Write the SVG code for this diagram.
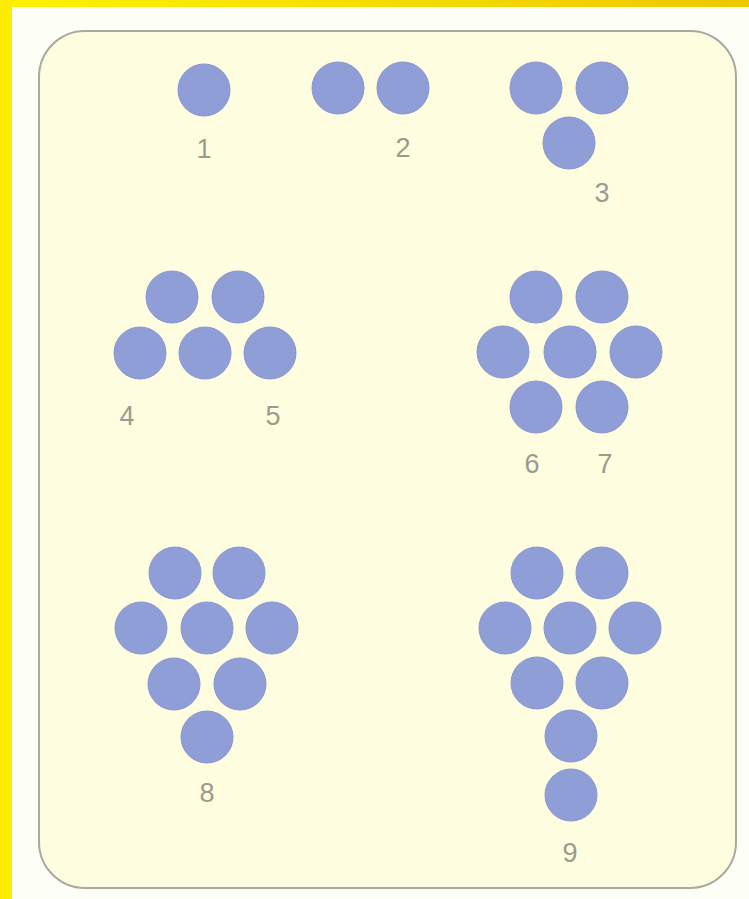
<svg xmlns="http://www.w3.org/2000/svg" width="749" height="899" viewBox="0 0 749 899">
<defs>
<style>
.dot{fill:#909ed8;stroke:#8896cf;stroke-width:1}
.lbl{font-family:"Liberation Sans",Arial,sans-serif;font-size:27px;fill:#9b9b8e;text-anchor:middle}
</style>
<linearGradient id="yb" x1="0" y1="0" x2="1" y2="0">
<stop offset="0" stop-color="#fff200"/>
<stop offset="1" stop-color="#ebc800"/>
</linearGradient>
</defs>
<rect x="0" y="0" width="749" height="899" fill="#fdfef6"/>
<rect x="0" y="0" width="749" height="7" fill="url(#yb)"/>
<rect x="0" y="0" width="12" height="899" fill="#fcec00"/>
<rect id="panel" x="39" y="31" width="697" height="857" rx="46" ry="46" fill="#fefde0" stroke="#a9a9a0" stroke-width="2"/>
<g id="n1">
<circle class="dot" cx="204" cy="90" r="26"/>
<text class="lbl" x="204" y="158">1</text>
</g>
<g id="n2">
<circle class="dot" cx="338" cy="88" r="26"/>
<circle class="dot" cx="403" cy="88" r="26"/>
<text class="lbl" x="403" y="157">2</text>
</g>
<g id="n3">
<circle class="dot" cx="536" cy="88" r="26"/>
<circle class="dot" cx="602" cy="88" r="26"/>
<circle class="dot" cx="569" cy="143" r="26"/>
<text class="lbl" x="602" y="202">3</text>
</g>
<g id="n45">
<circle class="dot" cx="172" cy="297" r="26"/>
<circle class="dot" cx="238" cy="297" r="26"/>
<circle class="dot" cx="140" cy="353" r="26"/>
<circle class="dot" cx="205" cy="353" r="26"/>
<circle class="dot" cx="270" cy="353" r="26"/>
<text class="lbl" x="127" y="425">4</text>
<text class="lbl" x="273" y="425">5</text>
</g>
<g id="n67">
<circle class="dot" cx="536" cy="297" r="26"/>
<circle class="dot" cx="602" cy="297" r="26"/>
<circle class="dot" cx="503" cy="352" r="26"/>
<circle class="dot" cx="570" cy="352" r="26"/>
<circle class="dot" cx="636" cy="352" r="26"/>
<circle class="dot" cx="536" cy="407" r="26"/>
<circle class="dot" cx="602" cy="407" r="26"/>
<text class="lbl" x="532" y="473">6</text>
<text class="lbl" x="605" y="473">7</text>
</g>
<g id="n8">
<circle class="dot" cx="175" cy="573" r="26"/>
<circle class="dot" cx="239" cy="573" r="26"/>
<circle class="dot" cx="141" cy="628" r="26"/>
<circle class="dot" cx="207" cy="628" r="26"/>
<circle class="dot" cx="272" cy="628" r="26"/>
<circle class="dot" cx="174" cy="684" r="26"/>
<circle class="dot" cx="240" cy="684" r="26"/>
<circle class="dot" cx="207" cy="737" r="26"/>
<text class="lbl" x="207" y="802">8</text>
</g>
<g id="n9">
<circle class="dot" cx="537" cy="573" r="26"/>
<circle class="dot" cx="602" cy="573" r="26"/>
<circle class="dot" cx="505" cy="628" r="26"/>
<circle class="dot" cx="570" cy="628" r="26"/>
<circle class="dot" cx="635" cy="628" r="26"/>
<circle class="dot" cx="537" cy="683" r="26"/>
<circle class="dot" cx="602" cy="683" r="26"/>
<circle class="dot" cx="571" cy="736" r="26"/>
<circle class="dot" cx="571" cy="795" r="26"/>
<text class="lbl" x="570" y="862">9</text>
</g>
<g id="connectors"/>
</svg>
